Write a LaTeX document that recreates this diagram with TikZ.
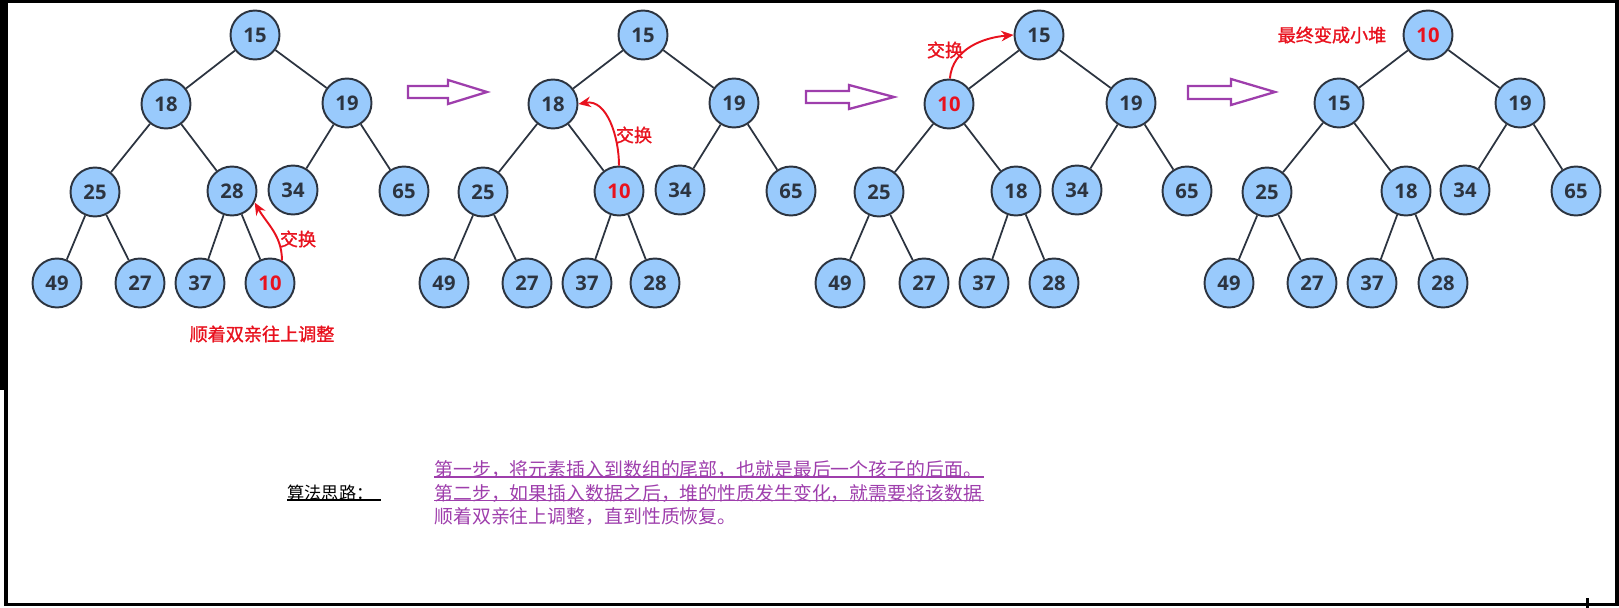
\documentclass[tikz,border=0pt]{standalone}
\usepackage{fontspec}
\setmainfont{Open Sans}
\newfontfamily\cjk{Noto Sans CJK SC}
\newfontfamily\cjkbold[FakeBold=1.2]{Noto Sans CJK SC}
\usetikzlibrary{arrows, arrows.meta, positioning}
\definecolor{heapfill}{RGB}{153,202,252}
\definecolor{heapline}{RGB}{44,52,64}
\definecolor{swapred}{RGB}{232,18,30}
\definecolor{notepurple}{RGB}{158,62,172}

\begin{document}
\begin{tikzpicture}[x=0.02cm, y=-0.02cm,
    heap/.style={circle, draw=heapline, line width=1.1pt, fill=heapfill, minimum size=0.98cm, inner sep=0pt, font=\fontsize{11.5}{13}\selectfont\bfseries, text=heapline},
    hot/.style={heap, text=swapred},
    branch/.style={draw=heapline, line width=1pt},
    swaparrow/.style={-{Stealth[length=7pt, width=6pt]}, draw=swapred, line width=1.1pt},
    swaplabel/.style={text=swapred, font=\cjkbold\fontsize{10.3}{12}\selectfont, inner sep=0pt},
    bigarrow/.style={draw=notepurple, line width=1.3pt, line join=miter},
    noteline/.style={anchor=west, text=notepurple, font=\cjk\fontsize{10.75}{12}\selectfont, inner sep=0pt}]

    \useasboundingbox (0,0) rectangle (1619,608);

    % Frame
    \draw[line width=1.7pt] (0,1.5) -- (1619,1.5);
    \draw[line width=4.5pt] (4,0) -- (4,390);
    \draw[line width=2.3pt] (6,388) -- (6,606);
    \draw[line width=2pt] (4,604.5) -- (1619,604.5);
    \draw[line width=1.8pt] (1617,0) -- (1617,606);
    \draw[line width=1.7pt] (1587,598) -- (1587,608);

    % Tree 1
    \node[heap] (a15) at (255,35) {15};
    \node[heap] (a18) at (166,104) {18};
    \node[heap] (a19) at (347,103) {19};
    \node[heap] (a25) at (95,192) {25};
    \node[heap] (a28) at (232,191) {28};
    \node[heap] (a34) at (293,190) {34};
    \node[heap] (a65) at (404,191) {65};
    \node[heap] (a49) at (57,283) {49};
    \node[heap] (a27) at (140,283) {27};
    \node[heap] (a37) at (200,283) {37};
    \node[hot] (a10) at (270,283) {10};
    \draw[branch] (a15) -- (a18) (a15) -- (a19) (a18) -- (a25) (a18) -- (a28)
        (a19) -- (a34) (a19) -- (a65) (a25) -- (a49) (a25) -- (a27)
        (a28) -- (a37) (a28) -- (a10);
    \draw[swaparrow] (a10.62) to[out=90, in=-60] (a28.-27);
    \node[swaplabel] (swap1) at (298,239) {交换};
    \node[swaplabel] (upward) at (262,334) {顺着双亲往上调整};

    % Tree 2
    \node[heap] (b15) at (643,35) {15};
    \node[heap] (b18) at (553,104) {18};
    \node[heap] (b19) at (734,103) {19};
    \node[heap] (b25) at (483,192) {25};
    \node[hot] (b10) at (619,191) {10};
    \node[heap] (b34) at (680,190) {34};
    \node[heap] (b65) at (791,191) {65};
    \node[heap] (b49) at (444,283) {49};
    \node[heap] (b27) at (527,283) {27};
    \node[heap] (b37) at (587,283) {37};
    \node[heap] (b28) at (655,283) {28};
    \draw[branch] (b15) -- (b18) (b15) -- (b19) (b18) -- (b25) (b18) -- (b10)
        (b19) -- (b34) (b19) -- (b65) (b25) -- (b49) (b25) -- (b27)
        (b10) -- (b37) (b10) -- (b28);
    \draw[swaparrow] (b10.north) to[out=90, in=10] (b18.east);
    \node[swaplabel] (swap2) at (634,135) {交换};

    % Tree 3
    \node[heap] (c15) at (1039,35) {15};
    \node[hot] (c10) at (949,104) {10};
    \node[heap] (c19) at (1131,103) {19};
    \node[heap] (c25) at (879,192) {25};
    \node[heap] (c18) at (1016,191) {18};
    \node[heap] (c34) at (1077,190) {34};
    \node[heap] (c65) at (1187,191) {65};
    \node[heap] (c49) at (840,283) {49};
    \node[heap] (c27) at (924,283) {27};
    \node[heap] (c37) at (984,283) {37};
    \node[heap] (c28) at (1054,283) {28};
    \draw[branch] (c15) -- (c10) (c15) -- (c19) (c10) -- (c25) (c10) -- (c18)
        (c19) -- (c34) (c19) -- (c65) (c25) -- (c49) (c25) -- (c27)
        (c18) -- (c37) (c18) -- (c28);
    \draw[swaparrow] (c10.88) to[out=85, in=185] (c15.west);
    \node[swaplabel] (swap3) at (945,50) {交换};

    % Tree 4
    \node[hot] (d10) at (1428,35) {10};
    \node[heap] (d15) at (1339,103) {15};
    \node[heap] (d19) at (1520,103) {19};
    \node[heap] (d25) at (1267,192) {25};
    \node[heap] (d18) at (1406,191) {18};
    \node[heap] (d34) at (1465,190) {34};
    \node[heap] (d65) at (1576,191) {65};
    \node[heap] (d49) at (1229,283) {49};
    \node[heap] (d27) at (1312,283) {27};
    \node[heap] (d37) at (1372,283) {37};
    \node[heap] (d28) at (1443,283) {28};
    \draw[branch] (d10) -- (d15) (d10) -- (d19) (d15) -- (d25) (d15) -- (d18)
        (d19) -- (d34) (d19) -- (d65) (d25) -- (d49) (d25) -- (d27)
        (d18) -- (d37) (d18) -- (d28);
    \node[swaplabel] (result) at (1332,35) {最终变成小堆};

    % Hollow arrows between the steps
    \draw[bigarrow] (408,86) -- (448,86) -- (448,80) -- (487,92) -- (448,104) -- (448,98) -- (408,98) -- cycle;
    \draw[bigarrow] (806,91) -- (849,91) -- (849,85) -- (894,97) -- (849,109) -- (849,103) -- (806,103) -- cycle;
    \draw[bigarrow] (1188,86) -- (1231,86) -- (1231,79) -- (1275,92) -- (1231,105) -- (1231,99) -- (1188,99) -- cycle;

    % Notes
    \node[anchor=west, font=\cjk\fontsize{9.8}{11}\selectfont, inner sep=0pt] (idea) at (287,493) {算法思路：};
    \draw[line width=0.7pt] ([yshift=-4pt]idea.west) -- ++(94,0);
    \node[noteline] (step1) at (434,470) {第一步，将元素插入到数组的尾部，也就是最后一个孩子的后面。};
    \node[noteline] (step2) at (434,493.5) {第二步，如果插入数据之后，堆的性质发生变化，就需要将该数据};
    \node[noteline] (step3) at (434,517) {顺着双亲往上调整，直到性质恢复。};
    \draw[notepurple, line width=0.7pt] ([yshift=-4pt]step1.west) -- ++(550,0);
    \draw[notepurple, line width=0.7pt] ([yshift=-4pt]step2.west) -- ++(550,0);

\end{tikzpicture}
\end{document}
